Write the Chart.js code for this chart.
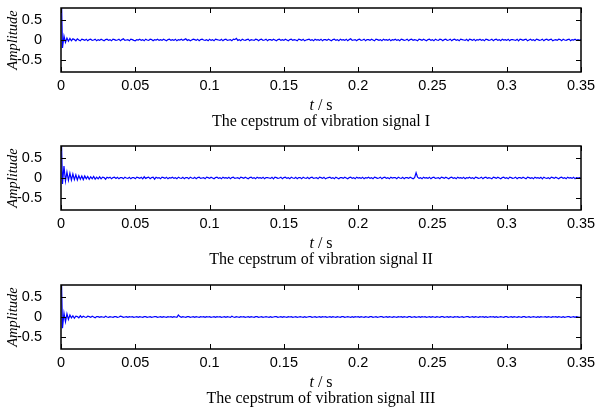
<!DOCTYPE html>
<html>
<head>
<meta charset="utf-8">
<script src="https://cdn.jsdelivr.net/npm/chart.js@4"></script>
<style>
  body { margin: 0; background: #fff; }
  #wrap { position: relative; width: 597px; height: 409px; overflow: hidden; }
  .panel { position: absolute; left: 0; width: 597px; height: 138px; }
  .panel canvas { position: absolute; left: 0; top: 0; }
  .cap { position: absolute; left: 61px; width: 520px; text-align: center;
         font-family: "Liberation Serif", "Times New Roman", serif; font-size: 16px; color: #000; line-height: 16px; }
  .xlab { top: 97px; }
  .title { top: 113px; }
</style>
</head>
<body>
<div id="wrap">
  <div class="panel" style="top:0px">
    <canvas id="c1" width="597" height="138"></canvas>
    <div class="cap xlab"><i>t</i> / s</div>
    <div class="cap title">The cepstrum of vibration signal I</div>
  </div>
  <div class="panel" style="top:138px">
    <canvas id="c2" width="597" height="138"></canvas>
    <div class="cap xlab"><i>t</i> / s</div>
    <div class="cap title">The cepstrum of vibration signal II</div>
  </div>
  <div class="panel" style="top:277px">
    <canvas id="c3" width="597" height="138"></canvas>
    <div class="cap xlab"><i>t</i> / s</div>
    <div class="cap title">The cepstrum of vibration signal III</div>
  </div>
</div>
<script>
// sampling step of the cepstrum (s)
const dt = 0.001;

const xTicks = [0, 0.05, 0.1, 0.15, 0.2, 0.25, 0.3, 0.35];
const xTickLabels = ['0', '0.05', '0.1', '0.15', '0.2', '0.25', '0.3', '0.35'];
const yTicks = [-0.5, 0, 0.5];
const yTickLabels = ['-0.5', '0', '0.5'];

// signal I
const amp1 = [
  1.6,-0.2,0.1,-0.06,0.05, -0.03,0.04,-0.02,0.03,0.01, -0.02,0.03,0,-0.02,0.02, 0.01,-0.01,0.02,-0.02,0.01, 0.02,-0.01,0,0.02,-0.02,
  0.01,-0.01,0.02,0,-0.02, 0.01,0.02,-0.01,0.01,-0.02, 0.02,0.01,-0.01,0,0.02, -0.02,0.01,0.03,-0.01,0, 0.01,-0.02,0.02,0.01,-0.01,
  -0.02,0.01,0,0.02,-0.01, 0.01,-0.02,0.02,0,-0.01, 0.02,0.01,-0.02,0.01,0, 0.02,-0.01,0.01,-0.01,0.02, 0,-0.02,0.01,0.02,-0.01,
  0.01,-0.01,0.02,-0.02,0.01, 0,0.02,-0.01,0.01,0.03, -0.01,0.01,-0.02,0,0.02, 0.01,-0.01,0.02,-0.02,0.01, 0.02,0,-0.01,0.01,-0.02,
  0.02,-0.01,0.01,-0.02,0.02, 0.01,0,-0.01,0.02,-0.02, 0.01,0.02,-0.01,0,0.01, -0.02,0.02,0.01,0.04,-0.01, 0.01,-0.02,0.02,0,-0.01,
  0.01,0.02,-0.02,0.01,0, -0.01,0.02,0.01,-0.02,0.01, 0.02,-0.01,0,0.02,-0.02, 0.01,0.01,-0.01,0.02,0, -0.02,0.01,0.02,-0.01,0.01,
  -0.01,0.02,0,-0.02,0.01, 0.02,-0.01,0.01,0,-0.02, 0.02,0.01,-0.01,0.02,-0.02, 0,0.01,0.02,-0.01,0.01, -0.02,0.02,0,0.01,-0.01,
  0.02,-0.02,0.01,0.01,-0.01, 0.02,0,-0.02,0.01,0.02, -0.01,0.01,-0.02,0.02,0, 0.01,-0.01,0.02,-0.02,0.01, 0.03,-0.01,0,0.01,-0.02,
  0.01,0.02,-0.01,0,0.02, -0.02,0.01,0.01,-0.01,0.02, 0,-0.02,0.02,0.01,-0.01, 0.01,-0.02,0.02,0,0.01, -0.01,0.02,-0.02,0.01,0,
  0.02,-0.01,0.01,-0.02,0.02, 0.01,-0.01,0,0.02,-0.02, 0.01,0.02,-0.01,0.01,0, -0.02,0.02,0.01,-0.01,0.02, 0,-0.02,0.01,0.02,-0.01,
  0.01,-0.02,0.02,0,-0.01, 0.02,0.01,-0.02,0.01,0.02, -0.01,0,0.02,-0.02,0.01, 0.02,-0.01,0.01,-0.02,0.02, 0.01,0,-0.01,0.02,-0.02,
  0.02,0.01,-0.01,0.02,-0.02, 0.01,0,0.02,-0.01,0.01, -0.02,0.02,0.01,-0.01,0, 0.02,-0.02,0.01,0.02,-0.01, 0.01,-0.02,0.02,0,0.01,
  -0.01,0.02,-0.02,0.01,0.01, 0,-0.01,0.02,-0.02,0.02, 0.01,-0.01,0.01,0.02,-0.02, 0,0.02,-0.01,0.01,-0.02, 0.02,0.01,-0.01,0,0.02,
  -0.02,0.01,0.02,-0.01,0.01, 0.02,-0.02,0,0.01,-0.01, 0.02,0.01,-0.02,0.02,0, -0.01,0.01,0.02,-0.02,0.01, 0,0.02,-0.01,0.01,-0.01,
  0.01
];

// signal II
const amp2 = [
  1.4,-0.15,0.3,-0.08,0.15, -0.06,0.12,-0.05,0.1,-0.04, 0.08,-0.05,0.06,-0.03,0.05, -0.04,0.05,-0.02,0.04,-0.03, 0.03,-0.02,0.04,-0.03,0.02,
  -0.02,0.03,-0.02,0.02,0.01, -0.03,0.02,0,0.02,-0.02, 0.01,0.02,-0.01,0.02,-0.02, 0.01,0.01,-0.02,0.02,0, -0.01,0.02,-0.02,0.01,0.01,
  -0.02,0.02,0.01,-0.01,0.02, -0.02,0.03,-0.01,0.01,0.02, -0.02,0.01,0.02,-0.03,0.02, 0,0.01,-0.02,0.02,0.01, -0.01,0.02,-0.02,0.01,0,
  0.02,-0.01,0.01,-0.02,0.02, 0,-0.01,0.02,-0.02,0.01, 0.01,-0.02,0.02,0,-0.01, 0.02,-0.02,0.01,0.02,-0.01, 0,0.01,-0.02,0.02,0.01,
  -0.01,0.02,0,-0.02,0.01, 0.02,-0.01,0.01,-0.02,0.02, 0,0.01,-0.01,0.02,-0.02, 0.01,0.02,-0.01,0,0.01, -0.02,0.02,0.01,-0.01,0.02,
  0,-0.02,0.01,0.02,-0.01, 0.01,-0.02,0.02,0,0.01, -0.01,0.02,-0.02,0.01,0.01, 0,-0.01,0.02,-0.02,0.02, 0.01,-0.01,0,0.02,-0.02,
  0.01,0.02,-0.01,0.01,-0.02, 0.02,0,-0.01,0.02,-0.02, 0.01,0.01,-0.02,0.02,0, -0.01,0.02,-0.02,0.01,0.02, -0.01,0,0.01,-0.02,0.02,
  0.01,-0.01,0.02,-0.02,0, 0.01,0.02,-0.01,0.01,-0.02, 0.02,0,-0.02,0.01,0.01, -0.01,0.02,0,-0.02,0.01, 0.02,-0.01,0.01,-0.02,0.02,
  0,0.01,-0.01,0.02,-0.02, 0.01,0,0.02,-0.01,0.01, -0.02,0.02,0.01,-0.01,0, 0.02,-0.02,0.01,0.02,-0.01, 0.01,-0.02,0.02,0,0.01,
  0.01,-0.02,0.02,0,-0.01, 0.02,-0.02,0.01,0.01,-0.01, 0.02,0,-0.02,0.01,0.13, 0.02,-0.01,0.01,-0.02,0.02, 0,0.01,-0.01,0.02,-0.02,
  0.01,0.02,-0.01,0,0.01, -0.02,0.02,0.01,-0.01,0.02, 0,-0.02,0.01,0.02,-0.01, 0.01,-0.02,0.02,0,0.01, -0.01,0.02,-0.02,0.01,0,
  0.02,-0.01,0.01,-0.02,0.02, 0.01,-0.01,0,0.02,-0.02, 0.01,0.02,-0.01,0.01,0, -0.02,0.02,0.01,-0.01,0.02, 0,-0.02,0.01,0.02,-0.01,
  0.01,-0.02,0.02,0.01,-0.01, 0,0.02,-0.02,0.01,0.01, -0.01,0.02,0,-0.02,0.02, 0.01,-0.01,0.01,-0.02,0.02, 0,0.01,-0.01,0.02,-0.02,
  0.02,0,-0.01,0.01,-0.02, 0.02,0.01,-0.01,0.02,0, -0.02,0.01,0.02,-0.01,0.01, -0.02,0.02,0,0.01,-0.01, 0.02,-0.02,0.01,0,0.01,
  -0.01
];

// signal III
const amp3 = [
  1.5,-0.28,0.1,-0.12,0.08, -0.06,0.05,-0.02,0.03,-0.03, 0.02,0.01,-0.02,0.03,-0.01, 0.02,0,-0.01,0.02,0.01, -0.01,0.02,0,-0.02,0.01,
  0.01,-0.01,0.01,0,-0.01, 0.02,0,-0.01,0.01,0, -0.01,0.01,0.01,-0.01,0, 0.02,0.01,-0.01,0,0.01, -0.01,0.01,0,0.01,-0.01,
  0,0.01,-0.01,0.01,0, -0.01,0.01,0.01,-0.01,0, 0.01,-0.01,0,0.01,0.01, -0.01,0,0.01,-0.01,0.01, 0,-0.01,0.01,0,0.01,
  -0.01,0.01,0,-0.01,0.05, 0.01,-0.01,0.01,0,-0.01, 0.01,0.01,-0.01,0,0.01, -0.01,0.01,0,-0.01,0.01, 0,0.01,-0.01,0.01,0,
  0.01,-0.01,0,0.01,-0.01, 0.01,0,0.01,-0.01,0, 0.01,-0.01,0.01,0,-0.01, 0.02,0,-0.01,0.01,0, -0.01,0.01,0,0.01,-0.01,
  0,0.01,-0.01,0.01,0, -0.01,0.01,0.01,-0.01,0, 0.01,-0.01,0,0.01,0, -0.01,0.01,-0.01,0,0.01, 0.01,-0.01,0,0.01,-0.01,
  0.01,0,-0.01,0.01,0, 0.01,-0.01,0,0.01,-0.01, 0,0.01,0,-0.01,0.01, -0.01,0,0.01,0.01,-0.01, 0,0.01,-0.01,0,0.01,
  -0.01,0.01,0,0.01,-0.01, 0,0.01,-0.01,0.01,0, -0.01,0.01,0,-0.01,0.01, 0.01,-0.01,0,0.01,0, -0.01,0.01,-0.01,0.01,0,
  0.01,-0.01,0.01,0,-0.01, 0.01,0,-0.01,0.01,0.01, -0.01,0,0.01,-0.01,0, 0.01,0.01,-0.01,0,0.01, -0.01,0.01,0,-0.01,0.01,
  0,-0.01,0.01,0,0.01, -0.01,0.01,0,-0.01,0.01, 0.01,-0.01,0,0.01,-0.01, 0,0.01,-0.01,0.01,0, 0.01,-0.01,0,0.01,-0.01,
  0.01,0,-0.01,0.01,0, -0.01,0.01,0.01,-0.01,0, 0.01,-0.01,0.01,0,-0.01, 0.01,0,0.01,-0.01,0, 0.01,-0.01,0,0.01,0.01,
  -0.01,0,0.01,-0.01,0.01, 0,-0.01,0.01,0,0.01, -0.01,0.01,-0.01,0,0.01, 0,0.01,-0.01,0.01,-0.01, 0,0.01,0,-0.01,0.01,
  0.01,-0.01,0,0.01,-0.01, 0.01,0,-0.01,0.01,0, -0.01,0.01,0.01,-0.01,0, 0.01,-0.01,0,0.01,0, -0.01,0.01,-0.01,0.01,0,
  0,0.01,-0.01,0.01,0, -0.01,0.01,0,0.01,-0.01, 0.01,0,-0.01,0.01,-0.01, 0,0.01,0.01,-0.01,0, 0.01,-0.01,0.01,0,-0.01,
  0
];

// box around the plot area with inward ticks on all four sides
const boxTicks = {
  id: 'boxTicks',
  afterDraw(chart) {
    const { ctx, chartArea: a, scales: { x, y } } = chart;
    const len = 5;
    ctx.save();
    ctx.strokeStyle = '#000';
    ctx.lineWidth = 1;
    ctx.beginPath();
    xTicks.forEach(v => {
      const px = Math.round(x.getPixelForValue(v)) + 0.5;
      ctx.moveTo(px, a.bottom); ctx.lineTo(px, a.bottom - len);
      ctx.moveTo(px, a.top); ctx.lineTo(px, a.top + len);
    });
    yTicks.forEach(v => {
      const py = Math.round(y.getPixelForValue(v)) + 0.5;
      ctx.moveTo(a.left, py); ctx.lineTo(a.left + len, py);
      ctx.moveTo(a.right, py); ctx.lineTo(a.right - len, py);
    });
    ctx.stroke();
    ctx.lineWidth = 1.5;
    ctx.strokeRect(a.left, a.top, a.right - a.left, a.bottom - a.top);
    ctx.restore();
  }
};

function makeChart(id, values) {
  const points = values.map((v, i) => ({ x: i * dt, y: v }));
  return new Chart(document.getElementById(id), {
    type: 'line',
    data: {
      datasets: [{
        data: points,
        borderColor: '#0000ff',
        borderWidth: 1.2,
        pointRadius: 0,
        tension: 0
      }]
    },
    options: {
      responsive: false,
      animation: false,
      events: [],
      layout: { padding: { top: 8, right: 16, left: 0, bottom: 0 } },
      plugins: { legend: { display: false }, tooltip: { enabled: false } },
      scales: {
        x: {
          type: 'linear',
          min: 0,
          max: 0.35,
          grid: { display: false, tickLength: 0 },
          border: { display: false },
          afterBuildTicks: s => { s.ticks = xTicks.map(v => ({ value: v })); },
          afterFit: s => { s.height = 66; s.paddingLeft = 0; s.paddingRight = 0; },
          ticks: {
            autoSkip: false,
            maxRotation: 0,
            padding: 5,
            color: '#000',
            font: { family: '"Liberation Sans", Arial, sans-serif', size: 14.5 },
            callback: (v, i) => xTickLabels[i]
          }
        },
        y: {
          min: -0.8,
          max: 0.8,
          grid: { display: false },
          border: { display: false },
          afterBuildTicks: s => { s.ticks = yTicks.map(v => ({ value: v })); },
          afterFit: s => { s.width = 61; s.paddingTop = 0; s.paddingBottom = 0; },
          ticks: {
            padding: 11,
            color: '#000',
            font: { family: '"Liberation Sans", Arial, sans-serif', size: 14.5 },
            callback: (v, i) => yTickLabels[i]
          },
          title: {
            display: true,
            text: 'Amplitude',
            color: '#000',
            padding: { top: 4, bottom: 0 },
            font: { family: '"Liberation Serif", "Times New Roman", serif', size: 14.5, style: 'italic' }
          }
        }
      }
    },
    plugins: [boxTicks]
  });
}

makeChart('c1', amp1);
makeChart('c2', amp2);
makeChart('c3', amp3);
</script>
</body>
</html>
